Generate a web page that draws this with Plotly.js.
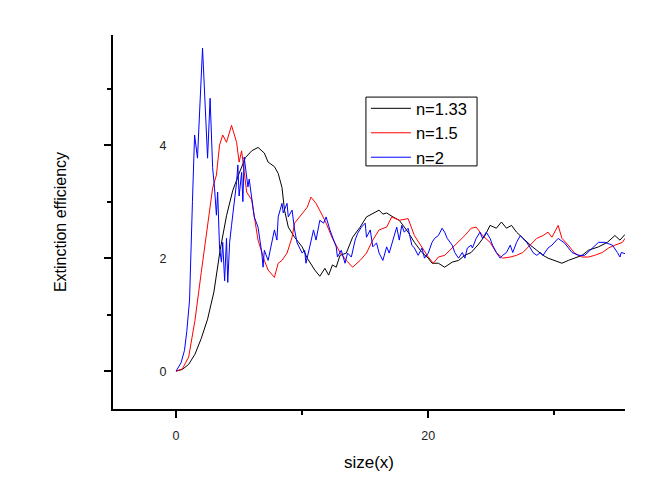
<!DOCTYPE html>
<html>
<head>
<meta charset="utf-8">
<script src="https://cdn.plot.ly/plotly-3.0.1.min.js"></script>
<style>html,body{margin:0;padding:0;background:#fff;}#chart{width:672px;height:492px;}</style>
</head>
<body>
<div id="chart"></div>
<script>
// n = 1.33 (black)
const xN133 = [0, 0.5, 1.0, 1.5, 2.0, 2.5, 3.0, 3.5, 4.0, 4.5,
  5.0, 5.5, 6.0, 6.5, 7.0, 7.3, 7.8, 8.1, 8.4, 8.6,
  8.9, 9.4, 10.0, 10.4, 11.0, 11.4, 11.8, 12.1, 12.4, 12.7,
  13.0, 13.5, 14.0, 14.6, 15.1, 15.6, 16.1, 16.4, 16.7, 17.2,
  17.7, 18.4, 18.9, 19.5, 20.0, 20.3, 20.8, 21.3, 21.9, 22.4,
  22.9, 23.4, 24.0, 24.5, 24.9, 25.4, 25.8, 26.2, 26.6, 27.0,
  27.5, 28.1, 28.6, 29.1, 29.5, 30.0, 30.6, 31.1, 31.6, 32.2,
  32.7, 33.5, 34.2, 34.8, 35.2, 35.6];
const yN133 = [0, 0.03, 0.12, 0.3, 0.58, 0.92, 1.4, 2.15, 2.75, 3.2,
  3.5, 3.78, 3.9, 3.96, 3.86, 3.7, 3.62, 3.5, 3.25, 2.85,
  2.55, 2.37, 2.2, 2.0, 1.79, 1.68, 1.82, 1.7, 1.88, 1.84,
  2.05, 2.09, 2.37, 2.55, 2.73, 2.79, 2.85, 2.78, 2.8, 2.73,
  2.67, 2.46, 2.28, 2.1, 2.0, 1.91, 1.91, 1.84, 1.93, 1.96,
  2.05, 2.1, 2.25, 2.4, 2.58, 2.53, 2.64, 2.53, 2.58, 2.46,
  2.35, 2.23, 2.14, 2.05, 2.0, 1.96, 1.91, 1.96, 2.0, 2.05,
  2.14, 2.2, 2.28, 2.4, 2.32, 2.42];

// n = 1.5 (red)
const xN15 = [0, 0.5, 1.0, 1.5, 2.0, 2.5, 2.9, 3.2, 3.45, 3.7,
  4.0, 4.4, 4.8, 5.0, 5.2, 5.6, 6.0, 6.5, 7.0, 7.3,
  7.8, 8.1, 8.4, 8.8, 9.2, 9.4, 10.0, 10.4, 10.7, 11.1,
  11.5, 11.9, 12.4, 13.0, 13.5, 14.0, 14.6, 15.1, 15.6, 16.1,
  16.7, 17.1, 17.7, 18.4, 18.9, 19.5, 20.0, 20.4, 20.8, 21.3,
  21.9, 22.4, 22.9, 23.4, 23.8, 24.3, 24.9, 25.4, 25.9, 26.5,
  27.0, 27.5, 28.1, 28.6, 29.1, 29.5, 29.8, 30.3, 30.6, 31.1,
  31.6, 32.2, 32.7, 33.2, 33.8, 34.3, 34.8, 35.4, 35.6];
const yN15 = [0, 0.04, 0.25, 0.9, 1.75, 2.6, 3.24, 3.47, 4.0, 4.18,
  4.05, 4.35, 4.05, 3.7, 3.9, 3.17, 3.03, 2.32, 1.96, 1.79,
  1.66, 1.91, 1.96, 2.09, 2.37, 2.62, 2.8, 2.9, 3.08, 2.97,
  2.8, 2.62, 2.35, 2.1, 1.96, 1.84, 1.96, 2.09, 2.32, 2.5,
  2.55, 2.73, 2.67, 2.7, 2.4, 2.18, 2.02, 1.91, 2.02, 2.05,
  2.18, 2.28, 2.4, 2.53, 2.55, 2.4, 2.28, 2.1, 2.0, 2.02,
  2.05, 2.1, 2.23, 2.35, 2.4, 2.46, 2.37, 2.58, 2.35, 2.23,
  2.09, 2.02, 2.02, 2.05, 2.1, 2.18, 2.23, 2.28, 2.35];

// n = 2 (blue)
const xN2 = [0, 0.4, 0.67, 0.85, 1.07, 1.2, 1.3, 1.47, 1.7, 2.1,
  2.4, 2.5, 2.7, 2.9, 3.05, 3.2, 3.3, 3.45, 3.6, 3.7,
  3.85, 4.0, 4.1, 4.25, 4.4, 4.6, 4.8, 4.9, 5.0, 5.2,
  5.3, 5.4, 5.6, 5.7, 5.8, 6.0, 6.2, 6.5, 6.8, 6.9,
  7.0, 7.3, 7.6, 7.8, 8.0, 8.1, 8.4, 8.5, 8.8, 8.9,
  9.2, 9.4, 9.6, 10.0, 10.2, 10.3, 10.6, 10.9, 11.1, 11.4,
  11.7, 11.9, 12.2, 12.4, 12.7, 12.8, 13.1, 13.4, 13.6, 13.9,
  14.2, 14.4, 14.7, 15.0, 15.1, 15.4, 15.6, 15.9, 16.1, 16.4,
  16.7, 16.9, 17.2, 17.5, 17.7, 17.9, 18.1, 18.4, 18.7, 18.9,
  19.2, 19.5, 19.7, 20.0, 20.3, 20.5, 20.8, 21.1, 21.3, 21.5,
  21.9, 22.1, 22.4, 22.7, 22.9, 23.1, 23.4, 23.5, 23.8, 24.1,
  24.3, 24.6, 24.9, 25.1, 25.4, 25.7, 25.9, 26.2, 26.5, 26.7,
  27.0, 27.3, 27.5, 27.8, 28.1, 28.3, 28.6, 28.9, 29.1, 29.5,
  29.8, 30.3, 30.6, 30.8, 31.4, 31.9, 32.4, 33.0, 33.5, 34.0,
  34.6, 35.0, 35.2, 35.3, 35.6];
const yN2 = [0, 0.15, 0.37, 0.7, 1.26, 2.08, 3.0, 4.18, 3.77, 5.72,
  4.4, 3.77, 4.83, 3.6, 3.24, 2.76, 3.17, 2.18, 1.93, 2.28,
  1.6, 2.35, 1.57, 2.28, 2.58, 2.94, 3.34, 3.65, 3.1, 3.52,
  3.0, 3.79, 3.42, 3.26, 3.4, 3.08, 2.73, 2.55, 2.09, 1.84,
  2.14, 1.96, 2.32, 2.5, 2.32, 2.73, 2.97, 2.8, 2.97, 2.73,
  2.85, 2.5, 2.27, 2.09, 2.14, 1.91, 2.2, 2.5, 2.32, 2.67,
  2.62, 2.73, 2.5, 2.37, 2.2, 2.02, 2.14, 1.91, 2.09, 2.02,
  2.32, 2.44, 2.55, 2.62, 2.37, 2.5, 2.2, 2.27, 2.09, 1.96,
  2.2, 2.09, 2.32, 2.55, 2.32, 2.58, 2.46, 2.53, 2.23, 2.18,
  2.05, 2.18, 2.0, 2.09, 2.28, 2.35, 2.4, 2.53, 2.46, 2.35,
  2.23, 2.1, 2.0, 2.1, 2.0, 2.18, 2.23, 2.18, 2.35, 2.46,
  2.35, 2.46, 2.35, 2.23, 2.1, 2.0, 2.05, 2.1, 2.23, 2.1,
  2.28, 2.4, 2.35, 2.28, 2.18, 2.1, 2.05, 2.1, 2.05, 2.18,
  2.23, 2.35, 2.3, 2.27, 2.1, 2.05, 2.05, 2.18, 2.28, 2.28,
  2.23, 2.1, 2.02, 2.1, 2.08];

const seriesNames = ["n=1.33", "n=1.5", "n=2"];
const xTickVals = [0, 20];
const yTickVals = [0, 2, 4];

const FONT = "Liberation Sans, Arial, sans-serif";

const traces = [
  {x: xN133, y: yN133, name: seriesNames[0], mode: "lines", line: {color: "#000000", width: 1}},
  {x: xN15, y: yN15, name: seriesNames[1], mode: "lines", line: {color: "#ff0000", width: 1}},
  {x: xN2, y: yN2, name: seriesNames[2], mode: "lines", line: {color: "#0000ff", width: 1}}
];

const layout = {
  width: 672, height: 492,
  margin: {l: 113, r: 47, t: 35, b: 83},
  paper_bgcolor: "#ffffff", plot_bgcolor: "#ffffff",
  font: {family: FONT, color: "#000"},
  showlegend: true,
  legend: {
    x: 0.494, y: 0.850, xanchor: "left", yanchor: "top",
    bgcolor: "rgba(0,0,0,0)", borderwidth: 0,
    font: {family: FONT, size: 16.5, color: "#000"},
    itemwidth: 40, tracegroupgap: 0
  },
  shapes: [
    {type: "rect", xref: "paper", yref: "paper", x0: 0.494, x1: 0.711, y0: 0.650, y1: 0.834,
     line: {color: "#000", width: 1}, fillcolor: "rgba(0,0,0,0)", layer: "above"}
  ],
  xaxis: {
    range: [-5, 35.6], tickvals: xTickVals, ticktext: xTickVals.map(String),
    showgrid: false, zeroline: false, showline: true, linecolor: "#000", linewidth: 2,
    ticks: "outside", ticklen: 7, tickwidth: 2, tickcolor: "#000",
    minor: {tickvals: [10, 30], ticks: "outside", ticklen: 4, tickwidth: 2, tickcolor: "#000"},
    ticklabelstandoff: 7,
    tickfont: {family: FONT, size: 12.5, color: "#222"},
    title: {text: "size(x)", font: {family: FONT, size: 17, color: "#000"}, standoff: 14},
    automargin: true
  },
  yaxis: {
    range: [-0.67, 5.95], tickvals: yTickVals, ticktext: yTickVals.map(String),
    showgrid: false, zeroline: false, showline: true, linecolor: "#000", linewidth: 2,
    ticks: "outside", ticklen: 7, tickwidth: 2, tickcolor: "#000",
    minor: {tickvals: [1, 3, 5], ticks: "outside", ticklen: 4, tickwidth: 2, tickcolor: "#000"},
    ticklabelposition: "inside", ticklabelstandoff: 46,
    tickfont: {family: FONT, size: 12.5, color: "#222"},
    title: {text: "Extinction efficiency", font: {family: FONT, size: 16, color: "#000"}, standoff: 89},
    automargin: false
  }
};

Plotly.newPlot("chart", traces, layout, {displayModeBar: false, staticPlot: true});
</script>
</body>
</html>
